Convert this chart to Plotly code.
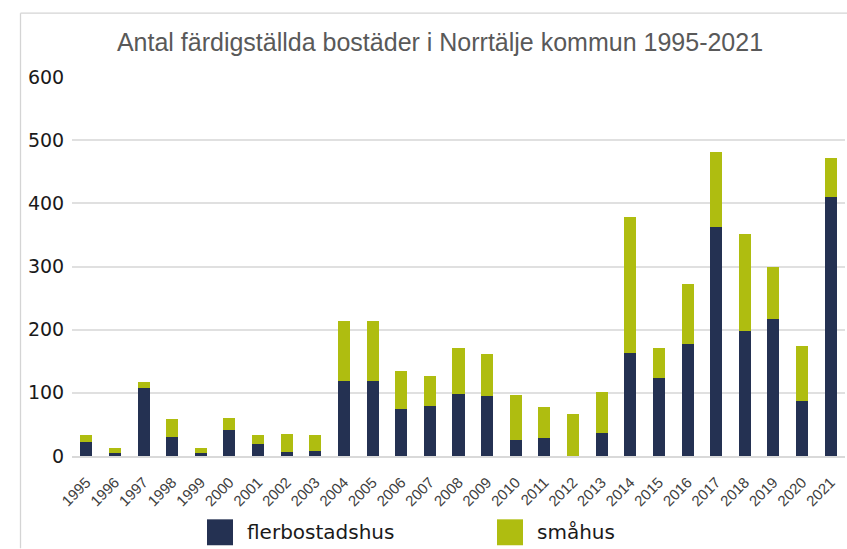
import plotly.graph_objects as go

years = [str(y) for y in range(1995, 2022)]
totals = [34, 12, 117, 59, 12, 60, 34, 35, 33, 214, 214, 134, 126, 171, 161,
          96, 77, 67, 102, 379, 171, 273, 482, 352, 300, 174, 472]
flerbostadshus = [22, 4, 107, 30, 4, 41, 19, 6, 8, 119, 119, 75, 79, 98, 95,
                  25, 29, 0, 36, 163, 123, 177, 362, 198, 217, 87, 410]
smahus = [t - f for t, f in zip(totals, flerbostadshus)]
y_ticks = [0, 100, 200, 300, 400, 500, 600]
series_names = ["flerbostadshus", "småhus"]

NAVY = "#243152"
GREEN = "#AFBD10"
colors = [NAVY, GREEN]

fig = go.Figure()
for name, vals, col in zip(series_names, [flerbostadshus, smahus], colors):
    fig.add_trace(go.Bar(x=years, y=vals, name=name,
                         marker=dict(color=col, line=dict(width=0))))

L, R, T, B = 72, 2, 76.5, 92.5
W, H = 847, 549
pw = W - L - R
ph = H - T - B


def px_x(x):
    return (x - L) / pw


def px_y(y):
    return (T + ph - y) / ph


border = dict(color="#d4d4d4", width=1.3)
shapes = [
    dict(type="line", xref="paper", yref="paper",
         x0=px_x(20.5), x1=px_x(W), y0=px_y(12.5), y1=px_y(12.5),
         line=border, layer="above"),
    dict(type="line", xref="paper", yref="paper",
         x0=px_x(20.5), x1=px_x(20.5), y0=px_y(12.5), y1=px_y(H),
         line=border, layer="above"),
]
annotations = []
legend_x = [207, 497]
for lx, name, col in zip(legend_x, series_names, colors):
    shapes.append(dict(type="rect", xref="paper", yref="paper",
                       x0=px_x(lx), x1=px_x(lx + 26),
                       y0=px_y(546), y1=px_y(520),
                       fillcolor=col, line=dict(width=0)))
    annotations.append(dict(xref="paper", yref="paper", x=px_x(lx + 38),
                            y=px_y(533), xanchor="left", yanchor="middle",
                            text=name, showarrow=False,
                            font=dict(family="DejaVu Sans", size=20, color="#1a1a1a")))

fig.update_layout(
    width=W, height=H,
    barmode="stack", bargap=0.58,
    paper_bgcolor="white", plot_bgcolor="white",
    margin=dict(l=L, r=R, t=T, b=B, pad=0, autoexpand=False),
    title=dict(text="Antal färdigställda bostäder i Norrtälje kommun 1995-2021",
               x=440 / W, xanchor="center", y=1 - 42 / H, yanchor="middle",
               font=dict(family="Liberation Sans, Arial", size=25, color="#595959")),
    showlegend=False,
    xaxis=dict(type="category", tickangle=-45, showgrid=False, automargin=False,
               showline=True, linecolor="#d9d9d9", linewidth=1.5,
               ticks="outside", ticklen=10, tickcolor="rgba(0,0,0,0)",
               tickfont=dict(family="Liberation Sans, Arial", size=15, color="#404040")),
    yaxis=dict(range=[0, 600], tickvals=y_ticks, showgrid=True, automargin=False,
               gridcolor="#e0e0e0", gridwidth=1.5, zeroline=False,
               ticks="outside", ticklen=3, tickcolor="rgba(0,0,0,0)", showline=False,
               tickfont=dict(family="DejaVu Sans", size=19, color="#1a1a1a")),
    shapes=shapes,
    annotations=annotations,
)

fig.write_html("out.html", config={"displayModeBar": False},
               post_script="document.body.style.margin='0';")
